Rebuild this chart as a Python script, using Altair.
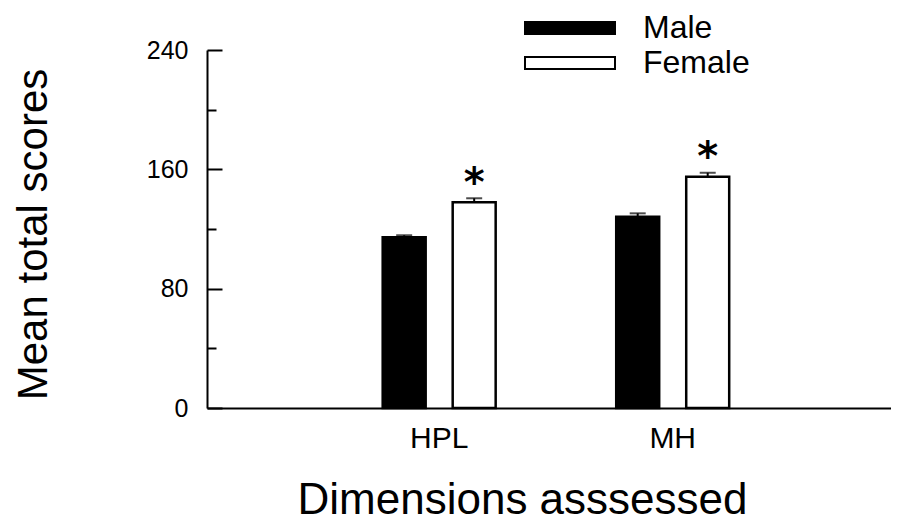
import altair as alt
import pandas as pd

# ---- data ----
dimensions = ["HPL", "HPL", "MH", "MH"]
sexes = ["Male", "Female", "Male", "Female"]
means = [114.4, 137.9, 128.2, 155.0]
sems = [1.4, 2.7, 2.3, 2.7]
star_dims = ["HPL", "MH"]
star_sex = ["Female", "Female"]
star_y = [156.6, 174.5]
y_major = [0, 80, 160, 240]
y_all_ticks = [0, 40, 80, 120, 160, 200, 240]
dim_order = ["HPL", "MH"]
sex_order = ["Male", "Female"]

df = pd.DataFrame({"dim": dimensions, "sex": sexes, "mean": means, "sem": sems})
df["upper"] = df["mean"] + df["sem"]
stars = pd.DataFrame({"dim": star_dims, "sex": star_sex, "y": star_y, "label": ["*"] * len(star_y)})

W, H = 684, 358
FONT = "Liberation Sans"

xscale = alt.Scale(domain=dim_order, paddingInner=0, paddingOuter=0.4645, align=0.532)
offscale = alt.Scale(domain=sex_order, paddingInner=0.386, paddingOuter=0.861)
yscale = alt.Scale(domain=[0, 240], nice=False, zero=True)

x_axis = alt.Axis(
    title="Dimensions asssessed", domain=True, domainColor="black", domainWidth=2,
    ticks=False, labelAngle=0, labelFontSize=30, labelFont=FONT, labelColor="black",
    labelPadding=15, titleFont=FONT, titleFontSize=44, titleFontWeight="normal",
    titleColor="black", titleX=315, titleY=105, titleAlign="center",
    titleBaseline="alphabetic", grid=False,
)
x_enc = alt.X("dim:N", scale=xscale, sort=dim_order, axis=x_axis)
xoff_enc = alt.XOffset("sex:N", scale=offscale, sort=sex_order)

bars = alt.Chart(df).mark_bar(stroke="black", strokeWidth=2.5).encode(
    x=x_enc,
    xOffset=xoff_enc,
    y=alt.Y(
        "mean:Q", scale=yscale,
        axis=alt.Axis(
            values=y_major, ticks=False, domain=True, domainColor="black", domainWidth=2,
            labelFontSize=25, labelFont=FONT, labelColor="black", labelPadding=19, grid=False,
            title="Mean total scores", titleFont=FONT, titleFontSize=42,
            titleFontWeight="normal", titleColor="black", titleX=-174, titleY=184,
            titleAngle=270, titleAlign="center", titleBaseline="middle",
        ),
    ),
    color=alt.Color(
        "sex:N", scale=alt.Scale(domain=sex_order, range=["black", "white"]), sort=sex_order,
        legend=alt.Legend(
            orient="none", legendX=312, legendY=-38, title=None, padding=0,
            symbolType="M-1,-0.6H8V0.6H-1Z", symbolSize=400, symbolStrokeColor="black",
            symbolStrokeWidth=2, labelFontSize=32, labelFont=FONT, labelColor="black",
            labelOffset=92, rowPadding=3, symbolOffset=0,
        ),
    ),
)

stems = alt.Chart(df).mark_rule(color="black", strokeWidth=2).encode(
    x=x_enc,
    xOffset=xoff_enc,
    y=alt.Y(
        "mean:Q", scale=yscale,
        axis=alt.Axis(
            orient="right", offset=-W, values=y_all_ticks, labels=False, domain=False,
            grid=False, title=None, tickColor="black", tickWidth=2,
            tickSize={"condition": {"test": "datum.value % 80 === 0", "value": 15}, "value": 9},
        ),
    ),
    y2="upper:Q",
)

caps = alt.Chart(df).mark_tick(color="black", thickness=2, size=16, orient="horizontal").encode(
    x=x_enc,
    xOffset=xoff_enc,
    y=alt.Y("upper:Q", scale=yscale, axis=None),
)

star_marks = alt.Chart(stars).mark_text(
    font="DejaVu Sans", fontWeight="bold", fontSize=40, baseline="middle", dy=10, color="black"
).encode(
    x=x_enc,
    xOffset=xoff_enc,
    y=alt.Y("y:Q", scale=yscale, axis=None),
    text="label:N",
)

chart = (
    alt.layer(bars, stems, caps, star_marks)
    .resolve_axis(y="independent")
    .properties(
        width=W, height=H,
        autosize=alt.AutoSizeParams(type="none"),
        padding={"left": 199, "top": 42, "right": 0, "bottom": 113},
        background="white",
    )
    .configure_view(stroke=None)
)

chart.save("out.html", embed_options={"renderer": "svg", "actions": False})
